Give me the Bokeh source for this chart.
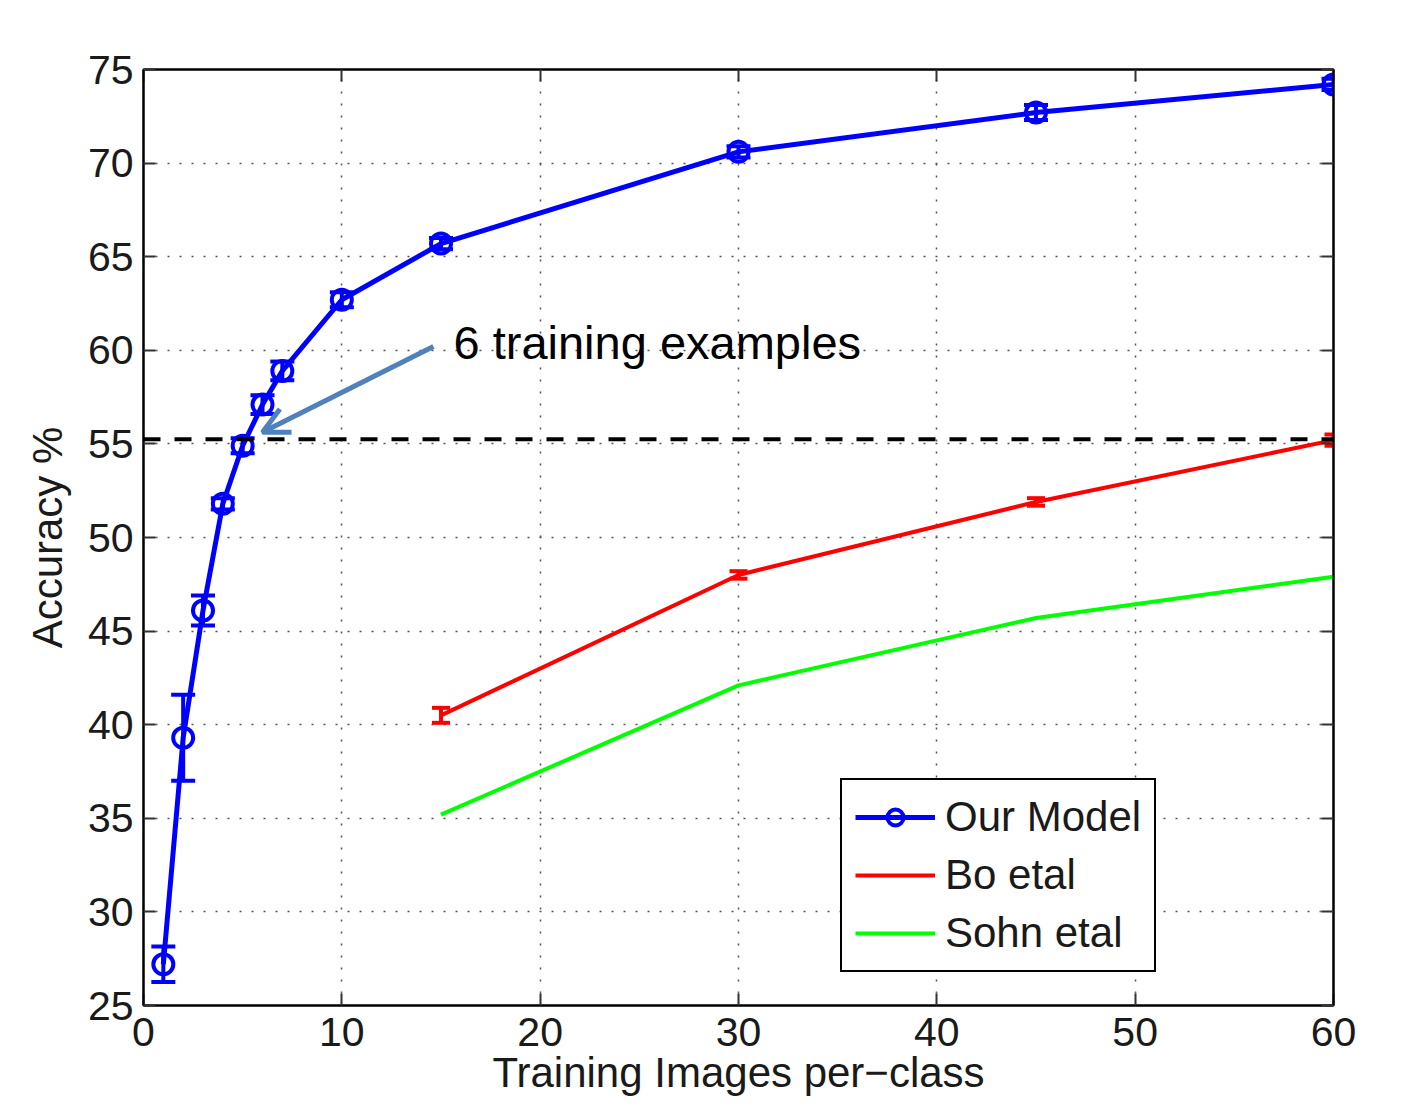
from bokeh.plotting import figure
from bokeh.models import (Range1d, LinearAxis, Whisker, TeeHead, Span, Arrow,
                          OpenHead, Label, Legend, LegendItem, ColumnDataSource,
                          FixedTicker)
from bokeh.embed import file_html
from bokeh.resources import INLINE

# ---------------- data ----------------
ours_x = [1, 2, 3, 4, 5, 6, 7, 10, 15, 30, 45, 60]
ours_y = [27.2, 39.3, 46.1, 51.8, 54.9, 57.1, 58.9, 62.7, 65.7, 70.6, 72.7, 74.2]
ours_err = [0.95, 2.3, 0.8, 0.3, 0.4, 0.5, 0.5, 0.4, 0.3, 0.3, 0.4, 0.3]

bo_x = [15, 30, 45, 60]
bo_y = [40.5, 48.0, 51.9, 55.2]
bo_err = [0.4, 0.2, 0.2, 0.3]

sohn_x = [15, 30, 45, 60]
sohn_y = [35.2, 42.1, 45.7, 47.9]

x_ticks = [0, 10, 20, 30, 40, 50, 60]
y_ticks = [25, 30, 35, 40, 45, 50, 55, 60, 65, 70, 75]

baseline_level = 55.25
annotation_text = "6 training examples"
arrow_start = (14.62, 60.2)
arrow_end = (6.0, 55.62)
text_pos = (15.63, 60.4)

FONT = "Liberation Sans"
TXT = "#1a1a1a"

p = figure(width=1388, height=1098, x_range=Range1d(0, 60), y_range=Range1d(25, 75),
           output_backend="svg", toolbar_location=None,
           min_border_left=143, min_border_right=55, min_border_top=69,
           min_border_bottom=90, background_fill_color="white",
           border_fill_color="white")

p.outline_line_color = "black"
p.outline_line_width = 2

p.xaxis.ticker = FixedTicker(ticks=x_ticks)
p.yaxis.ticker = FixedTicker(ticks=y_ticks)
p.xaxis.axis_label = "Training Images per\u2212class"
p.yaxis.axis_label = "Accuracy %"

for ax in (p.xaxis[0], p.yaxis[0]):
    ax.axis_line_width = 2
    ax.axis_line_color = "black"
    ax.major_tick_in = 12
    ax.major_tick_out = 0
    ax.major_tick_line_width = 2
    ax.major_tick_line_color = "#333333"
    ax.minor_tick_line_color = None
    ax.major_label_text_font = FONT
    ax.major_label_text_font_size = "41px"
    ax.major_label_text_color = TXT
    ax.axis_label_text_font = FONT
    ax.axis_label_text_font_size = "42px"
    ax.axis_label_text_font_style = "normal"
    ax.axis_label_text_color = TXT

p.xaxis.major_label_standoff = 12
p.xaxis.axis_label_standoff = 0
p.yaxis.major_label_standoff = 10
p.yaxis.axis_label_standoff = 14

# right and top axes with inward ticks, labels not drawn
for loc, ticks in (("right", y_ticks), ("above", x_ticks)):
    ax = LinearAxis(ticker=FixedTicker(ticks=ticks))
    ax.axis_line_width = 2
    ax.axis_line_color = "black"
    ax.major_tick_in = 12
    ax.major_tick_out = 0
    ax.major_tick_line_width = 2
    ax.major_tick_line_color = "#333333"
    ax.minor_tick_line_color = None
    ax.major_label_text_color = None
    ax.major_label_text_font_size = "10px"
    ax.major_label_standoff = 0
    p.add_layout(ax, loc)

p.xgrid.ticker = FixedTicker(ticks=x_ticks)
p.ygrid.ticker = FixedTicker(ticks=y_ticks)
for g in (p.xgrid[0], p.ygrid[0]):
    g.grid_line_color = "#555555"
    g.grid_line_width = 1.5
    g.grid_line_dash = "2 10"

# baseline dashed
p.add_layout(Span(location=baseline_level, dimension="width", line_color="black",
                  line_width=4, line_dash="17 14"))

# Sohn
sohn_line = p.line(sohn_x, sohn_y, line_color="#00ff00", line_width=4)

# Bo
bo_src = ColumnDataSource(dict(x=bo_x, y=bo_y,
                               upper=[y + e for y, e in zip(bo_y, bo_err)],
                               lower=[y - e for y, e in zip(bo_y, bo_err)]))
bo_line = p.line("x", "y", source=bo_src, line_color="red", line_width=4)
p.add_layout(Whisker(base="x", upper="upper", lower="lower", source=bo_src,
                     line_color="red", line_width=4,
                     upper_head=TeeHead(size=18, line_color="red", line_width=4),
                     lower_head=TeeHead(size=18, line_color="red", line_width=4)))

# Our model
o_src = ColumnDataSource(dict(x=ours_x, y=ours_y,
                              upper=[y + e for y, e in zip(ours_y, ours_err)],
                              lower=[y - e for y, e in zip(ours_y, ours_err)]))
o_line = p.line("x", "y", source=o_src, line_color="blue", line_width=5)
p.add_layout(Whisker(base="x", upper="upper", lower="lower", source=o_src,
                     line_color="blue", line_width=4,
                     upper_head=TeeHead(size=24, line_color="blue", line_width=4),
                     lower_head=TeeHead(size=24, line_color="blue", line_width=4)))
o_pts = p.scatter("x", "y", source=o_src, marker="circle", size=20,
                  line_color="blue", line_width=4, fill_alpha=0)

# annotation
p.add_layout(Arrow(x_start=arrow_start[0], y_start=arrow_start[1],
                   x_end=arrow_end[0], y_end=arrow_end[1],
                   line_color="#4F81BD", line_width=5,
                   end=OpenHead(size=26, line_color="#4F81BD", line_width=5)))
p.add_layout(Label(x=text_pos[0], y=text_pos[1], text=annotation_text,
                   text_font=FONT, text_font_size="47px", text_color="black",
                   text_baseline="alphabetic"))

legend = Legend(items=[
    LegendItem(label="Our Model", renderers=[o_line, o_pts]),
    LegendItem(label="Bo etal", renderers=[bo_line]),
    LegendItem(label="Sohn etal", renderers=[sohn_line]),
], location=(697, 33))
legend.label_text_font = FONT
legend.label_text_font_size = "42px"
legend.label_text_color = TXT
legend.glyph_width = 80
legend.glyph_height = 40
legend.label_height = 40
legend.spacing = 10
legend.padding = 13
legend.margin = 0
legend.label_standoff = 10
legend.border_line_color = "black"
legend.border_line_width = 2
legend.border_line_alpha = 1
legend.background_fill_alpha = 1
p.add_layout(legend)

open("out.html", "w").write(file_html(p, INLINE))
